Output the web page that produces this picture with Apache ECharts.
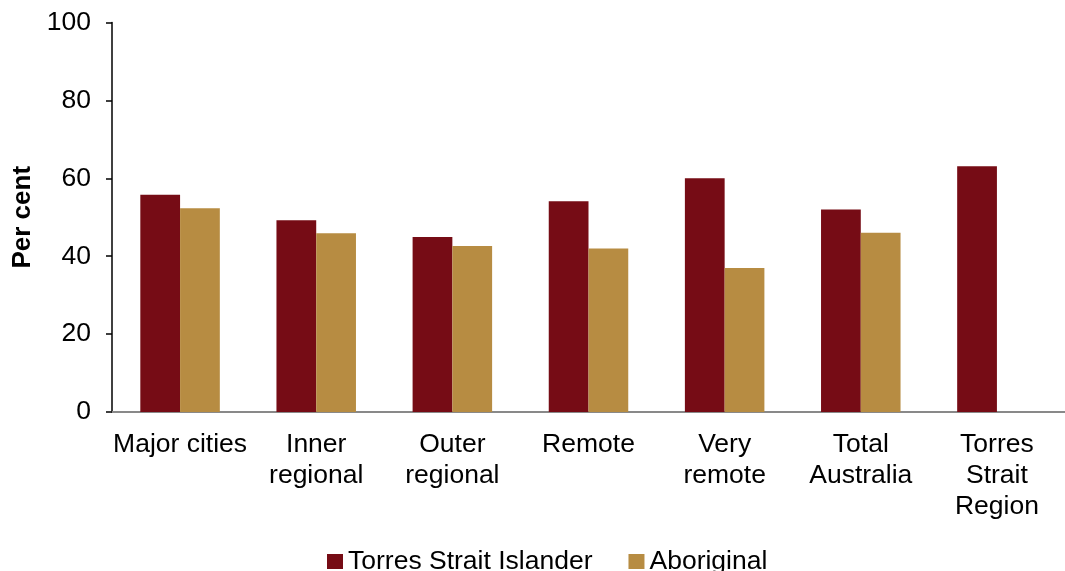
<!DOCTYPE html>
<html>
<head>
<meta charset="utf-8">
<script src="https://cdn.jsdelivr.net/npm/echarts@6/dist/echarts.min.js"></script>
<style>html,body{margin:0;padding:0;background:#fff;}#c{width:1065px;height:571px;}</style>
</head>
<body>
<div id="c"></div>
<script>
var categories = ['Major cities', 'Inner\nregional', 'Outer\nregional', 'Remote', 'Very\nremote', 'Total\nAustralia', 'Torres\nStrait\nRegion'];
var torresStraitIslander = [55.8, 49.2, 44.9, 54.1, 60.0, 52.0, 63.1];
var aboriginal = [52.3, 45.9, 42.6, 42.0, 37.0, 46.0, null];
var yTicks = [0, 20, 40, 60, 80, 100];

var FONT = 'Liberation Sans, Arial, sans-serif';
var chart = echarts.init(document.getElementById('c'));
chart.setOption({
  animation: false,
  backgroundColor: '#fff',
  textStyle: { fontFamily: FONT, color: '#000' },
  grid: { left: 112, top: 22.5, bottom: 159, right: -7, containLabel: false },
  legend: {
    left: 322, top: 543,
    itemWidth: 16, itemHeight: 15, itemGap: 36,
    icon: 'rect',
    textStyle: { fontSize: 26.5, color: '#000', fontFamily: FONT },
    data: ['Torres Strait Islander', 'Aboriginal']
  },
  xAxis: {
    type: 'category',
    data: categories,
    axisLine: { lineStyle: { color: '#898989', width: 2 } },
    axisTick: { show: false },
    axisLabel: { interval: 0, fontSize: 26.5, lineHeight: 31, color: '#000', margin: 17, fontFamily: FONT }
  },
  yAxis: {
    type: 'value',
    min: yTicks[0], max: yTicks[yTicks.length - 1], interval: 20,
    name: 'Per cent',
    nameLocation: 'middle',
    nameGap: 76,
    nameTextStyle: { fontSize: 26, fontWeight: 'bold', color: '#000', fontFamily: FONT },
    axisLine: { show: true, lineStyle: { color: '#000', width: 1.5 } },
    axisTick: { show: true, length: 6, lineStyle: { color: '#000', width: 1.5 } },
    splitLine: { show: false },
    axisLabel: { fontSize: 26.5, color: '#000', margin: 21, fontFamily: FONT }
  },
  series: [
    {
      name: 'Torres Strait Islander', type: 'bar', data: torresStraitIslander,
      barGap: '0%', barCategoryGap: '41.6%',
      itemStyle: { color: '#760C15' }
    },
    {
      name: 'Aboriginal', type: 'bar', data: aboriginal,
      barGap: '0%', barCategoryGap: '41.6%',
      itemStyle: { color: '#B78C42' }
    }
  ]
});
</script>
</body>
</html>
